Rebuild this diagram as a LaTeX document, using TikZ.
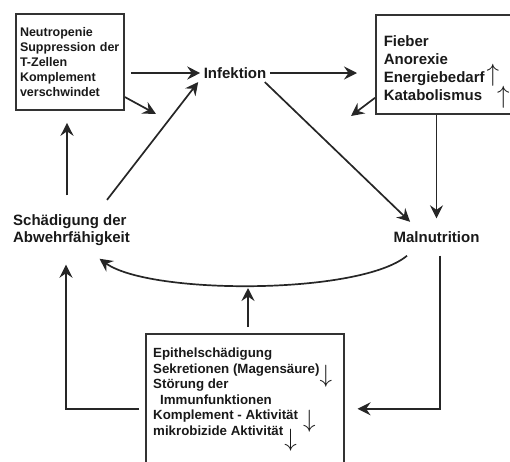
\documentclass[tikz,border=0pt]{standalone}
\usepackage{fontspec}
\setmainfont{Liberation Sans}
\usepackage{tikz}
\usetikzlibrary{positioning}
\usetikzlibrary{arrows.meta}
\tikzstyle{kasten}=[draw=black!80,rectangle,line width=1.6pt,align=left,text=black!90]
\tikzstyle{marke}=[text=black!90,align=left,font=\fontsize{15}{17}\selectfont\bfseries]
\tikzstyle{pfeil}=[draw=black!85,line width=1.7pt,-{Stealth[length=13pt,width=13pt,inset=4.5pt]}]
\def\hoch#1{\smash{\raisebox{#1}{\scalebox{2.5}{\fontsize{10}{10}\selectfont$\uparrow$}}}}
\def\runter#1{\smash{\raisebox{#1}{\scalebox{2.5}{\fontsize{10}{10}\selectfont$\downarrow$}}}}

\begin{document}
\begin{tikzpicture}[x=1pt,y=-1pt]
  \useasboundingbox (0,0) rectangle (510,461);
  \clip (0,0) rectangle (510,461);
  \node [kasten, text width=100pt, inner xsep=4pt, minimum height=96pt,
         font=\fontsize{12.5}{15}\selectfont\bfseries] (neutro) at (70,62)
        {Neutropenie\\Suppression der\\T-Zellen\\Komplement\\verschwindet};
  \node [marke] (infekt) at (235,73) {Infektion};
  \node [kasten, anchor=north west, text width=134pt, inner xsep=8pt, minimum height=99pt,
         font=\fontsize{15}{18.2}\selectfont\bfseries] (fieber) at (375,14)
        {\rule{0pt}{18.7pt}Fieber\\Anorexie\\Energiebedarf\hspace{2pt}\hoch{1.6pt}\\
         Katabolismus\hspace{15pt}\hoch{-2.4pt}};
  \node [marke, inner xsep=2pt, inner ysep=19pt] (schaed) at (71.5,230)
        {Sch\"adigung der\\Abwehrf\"ahigkeit};
  \node [marke, inner ysep=13pt] (maln) at (436.5,237) {Malnutrition};
  \node [kasten, anchor=north west, minimum width=198pt, minimum height=150pt] (stoer) at (145,333) {};
  \node [anchor=north west, inner sep=0pt, align=left, text=black!90,
         font=\fontsize{13.3}{15.5}\selectfont\bfseries] (stoertext) at ([shift={(8,15)}]stoer.north west)
        {Epithelsch\"adigung\\Sekretionen (Magens\"aure)\runter{-9.3pt}\\St\"orung der\\
         \hspace*{7pt}Immunfunktionen\\Komplement - Aktivit\"at\hspace{5pt}\runter{-7.3pt}\\
         mikrobizide Aktivit\"at\hspace{1pt}\runter{-11pt}};
  \coordinate (neutroSpitze) at (156,114);
  \coordinate (fieberSpitze) at (351,116);
  \coordinate (bogenSpitze) at (248,288);

  \draw [pfeil, shorten <=6pt] (neutro.east |- infekt.west) -- (infekt.west);
  \draw [pfeil] ([yshift=-35pt]neutro.east) -- (neutroSpitze);
  \draw [pfeil, shorten >=18pt] (infekt.east) -- (fieber.west |- infekt.east);
  \draw [pfeil] ([yshift=-33.5pt]fieber.west) -- (fieberSpitze);
  \draw [pfeil] ([xshift=-5pt]infekt.south east) -- ([shift={(20,3.5)}]maln.north west);
  \draw [pfeil] (fieber.south -| maln.north) -- (maln.north);
  \draw [pfeil] ([shift={(35.5,4.6)}]schaed.north) -- ([xshift=-2pt]infekt.south west);
  \draw [pfeil, shorten >=12pt] ([xshift=-4.5pt]schaed.north) -- ([xshift=-4.5pt]schaed.north |- neutro.south);
  \draw [pfeil] ([xshift=-29.5pt]maln.south) .. controls (360,295) and (150,295) .. ([shift={(28,-6)}]schaed.south);
  \draw [pfeil, shorten <=6pt] (bogenSpitze |- stoer.north) -- (bogenSpitze);
  \draw [pfeil, shorten >=13pt] ([xshift=3.5pt]maln.south) |- (stoer.east);
  \draw [pfeil] ([xshift=-6pt]stoer.west) -| ([xshift=-5.5pt]schaed.south);
\end{tikzpicture}
\end{document}
